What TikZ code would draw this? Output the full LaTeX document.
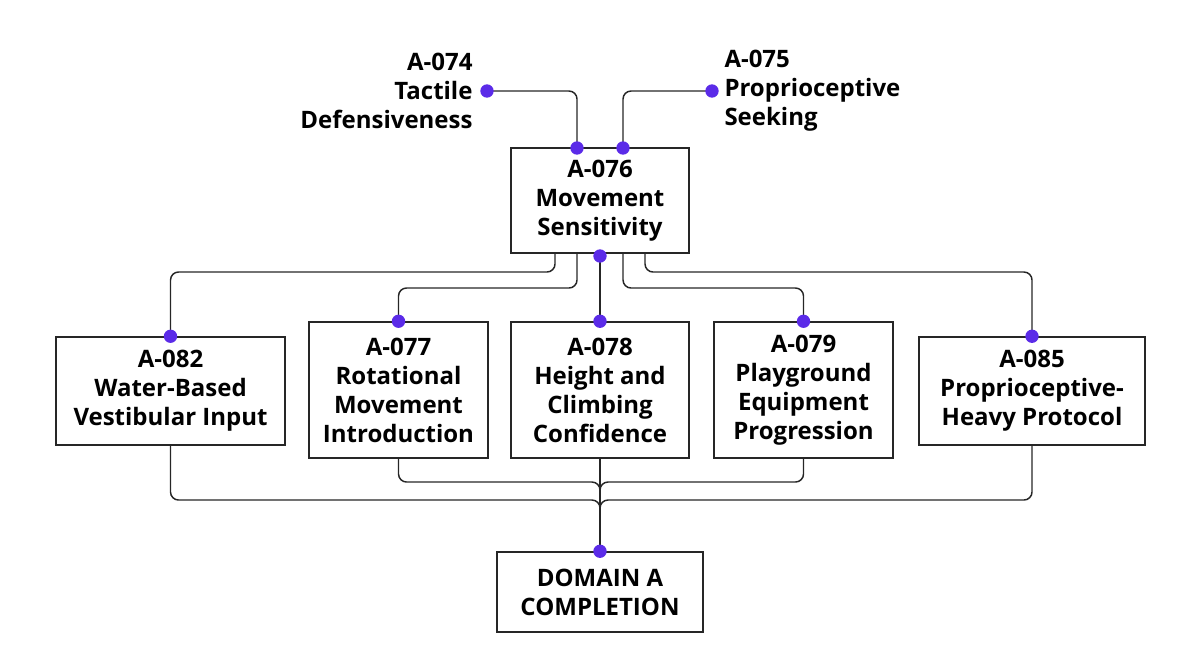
\documentclass[tikz,border=0pt]{standalone}
\usepackage{fontspec}
\setmainfont{Open Sans}
\definecolor{dotpurple}{HTML}{5B2BE8}
\tikzset{every picture/.style={line width=0.75pt}}
\tikzset{
  box/.style={draw=black!85,line width=1.1pt,fill=white,inner sep=0pt,align=center,font=\bfseries\fontsize{18}{21.75}\selectfont},
  lbl/.style={inner sep=0pt,font=\bfseries\fontsize{18}{21.75}\selectfont},
  link/.style={draw=black!85,line width=1.1pt,rounded corners=6pt},
  dot/.style={circle,fill=dotpurple,inner sep=0pt,minimum size=10pt}
}
\begin{document}
\begin{tikzpicture}[x=0.75pt,y=0.75pt,yscale=-1,xscale=1]
		\useasboundingbox (0,0) rectangle (1200,669);
		
		% Boxes
		\node[box,minimum width=178*0.75pt,minimum height=105*0.75pt] (a76) at (600,200.5) {A-076\\Movement\\Sensitivity};
		\node[box,minimum width=229*0.75pt,minimum height=108*0.75pt] (a82) at (170.5,391) {A-082\\Water-Based\\Vestibular Input};
		\node[box,minimum width=179*0.75pt,minimum height=136*0.75pt] (a77) at (398.5,390) {A-077\\Rotational\\Movement\\Introduction};
		\node[box,minimum width=178*0.75pt,minimum height=136*0.75pt] (a78) at (600,390) {A-078\\Height and\\Climbing\\Confidence};
		\node[box,minimum width=179*0.75pt,minimum height=136*0.75pt] (a79) at (803.5,390) {A-079\\Playground\\Equipment\\Progression};
		\node[box,minimum width=226*0.75pt,minimum height=108*0.75pt] (a85) at (1032,391) {A-085\\Proprioceptive-\\Heavy Protocol};
		\node[box,minimum width=206*0.75pt,minimum height=80*0.75pt] (fin) at (600,592) {DOMAIN A\\COMPLETION};
		
		% Text nodes
		\node[lbl,align=right,anchor=east] (a74) at (473,91) {A-074\\Tactile\\Defensiveness};
		\node[lbl,align=left,anchor=west] (a75) at (724,91) {A-075\\Proprioceptive\\Seeking};
		
		% Anchor points
		\coordinate (p74) at (487,91);
		\coordinate (p75) at (712,91);
		\coordinate (i74) at (577,148);
		\coordinate (i75) at (623,148);
		\coordinate (o82) at (555,253);
		\coordinate (o77) at (577,253);
		\coordinate (o79) at (623,253);
		\coordinate (o85) at (645,253);
		
		% Connectors
		\draw[link] (p74) -| (i74);
		\draw[link] (p75) -| (i75);
		\draw[link] (o82) -- (555,272) -| (a82.north);
		\draw[link] (o77) -- (577,288) -| (a77.north);
		\draw[link] (a76.south) -- (a78.north);
		\draw[link] (o79) -- (623,288) -| (a79.north);
		\draw[link] (o85) -- (645,272) -| (a85.north);
		\draw[link] (a82.south) |- (600,500) -- (fin.north);
		\draw[link] (a77.south) |- (600,482) -- (fin.north);
		\draw[link] (a78.south) -- (fin.north);
		\draw[link] (a79.south) |- (600,482) -- (fin.north);
		\draw[link] (a85.south) |- (600,500) -- (fin.north);
		
		% Dots
		\node[dot] (d74) at (p74) {};
		\node[dot] (d75) at (p75) {};
		\node[dot] (d76a) at (i74) {};
		\node[dot] (d76b) at (i75) {};
		\node[dot] (d76c) at (600,256) {};
		\node[dot] (d82) at (a82.north) {};
		\node[dot] (d77) at (a77.north) {};
		\node[dot] (d78) at (a78.north) {};
		\node[dot] (d79) at (a79.north) {};
		\node[dot] (d85) at (a85.north) {};
		\node[dot] (dfin) at (fin.north) {};
		
	\end{tikzpicture}
\end{document}
